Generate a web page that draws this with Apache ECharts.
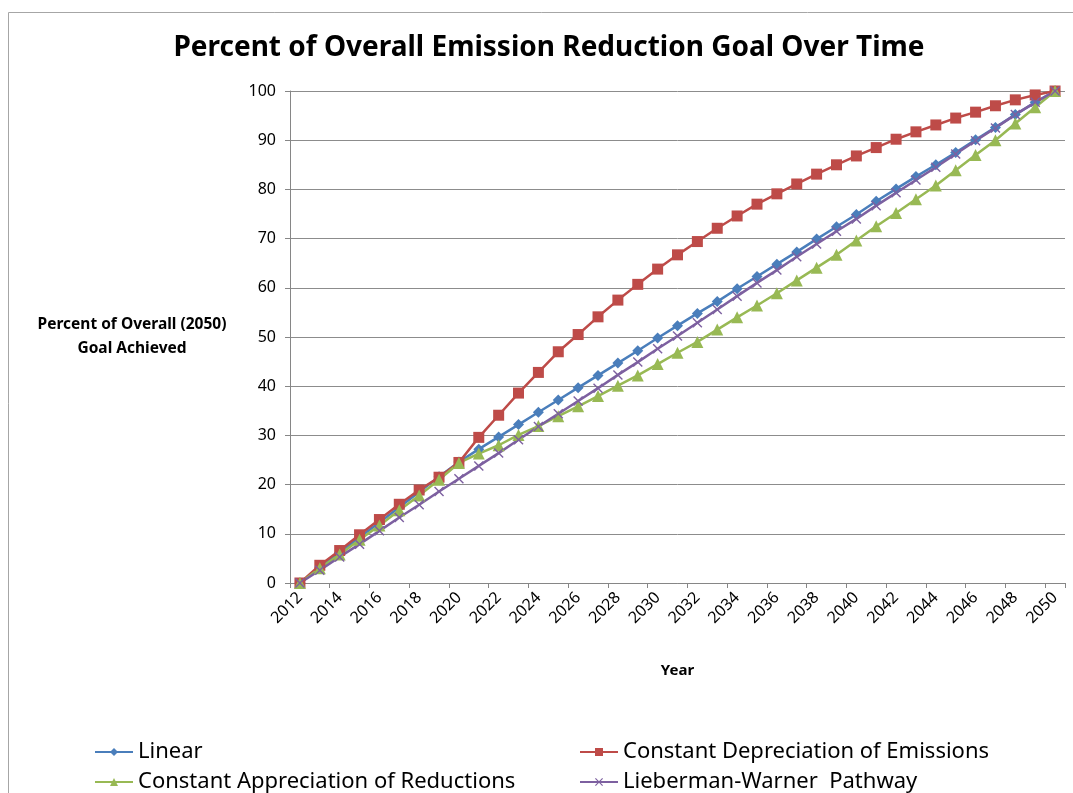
<!DOCTYPE html>
<html>
<head>
<meta charset="utf-8">
<script src="https://cdn.jsdelivr.net/npm/echarts@6/dist/echarts.min.js"></script>
<style>
html,body{margin:0;padding:0;background:#fff;overflow:hidden;}
#chart{width:1073px;height:793px;}
</style>
</head>
<body>
<div id="chart"></div>
<script>
const years = [];
for (let y = 2012; y <= 2050; y++) years.push(String(y));

const linear = [0, 3.1, 6.2, 9.3, 12.3, 15.4, 18.5, 21.6, 24.6, 27.2, 29.7, 32.2, 34.7, 37.2, 39.7, 42.2, 44.7, 47.2, 49.8, 52.3, 54.8, 57.2, 59.8, 62.3, 64.8, 67.3, 69.9, 72.4, 74.9, 77.6, 80.1, 82.6, 85.0, 87.5, 90.1, 92.6, 95.2, 97.7, 100];
const depreciation = [0, 3.6, 6.6, 9.8, 12.9, 16.0, 18.9, 21.5, 24.5, 29.6, 34.1, 38.6, 42.8, 47.0, 50.5, 54.1, 57.5, 60.7, 63.8, 66.7, 69.4, 72.1, 74.6, 77.0, 79.1, 81.1, 83.1, 85.0, 86.8, 88.5, 90.2, 91.7, 93.1, 94.5, 95.7, 97.0, 98.2, 99.2, 100];
const appreciation = [0, 3.0, 5.8, 8.8, 11.7, 14.8, 17.8, 21.0, 24.4, 26.3, 28.0, 30.1, 31.9, 33.9, 35.9, 38.0, 40.1, 42.2, 44.5, 46.8, 49.0, 51.5, 54.0, 56.4, 58.9, 61.5, 64.1, 66.7, 69.6, 72.5, 75.2, 78.0, 80.8, 83.9, 87.0, 90.0, 93.4, 96.7, 100];
const liebermanWarner = [0, 2.6, 5.3, 7.9, 10.6, 13.3, 15.9, 18.6, 21.2, 23.8, 26.4, 29.1, 31.8, 34.4, 37.0, 39.6, 42.3, 44.9, 47.6, 50.2, 52.9, 55.6, 58.3, 61.0, 63.6, 66.3, 68.9, 71.5, 74.0, 76.7, 79.3, 81.9, 84.5, 87.2, 89.9, 92.5, 95.2, 97.7, 100];

const seriesNames = ['Linear', 'Constant Depreciation of Emissions', 'Constant Appreciation of Reductions', 'Lieberman-Warner  Pathway'];
const titleText = 'Percent of Overall Emission Reduction Goal Over Time';
const yAxisTitle = 'Percent of Overall (2050)\nGoal Achieved';
const xAxisTitle = 'Year';

const FONT = 'Noto Sans';
const crossPath = 'path://M0,1L1,0L5,4L9,0L10,1L6,5L10,9L9,10L5,6L1,10L0,9L4,5Z';

function mkSeries(name, data, color, symbol, size) {
  return {
    name: name, type: 'line', data: data,
    symbol: symbol, symbolSize: size, showSymbol: true,
    lineStyle: { color: color, width: 2.5 },
    itemStyle: { color: color },
    emphasis: { disabled: true },
    animation: false
  };
}

const legendCommon = {
  orient: 'vertical', top: 741, height: 60, padding: 0,
  itemWidth: 38, itemHeight: 10, itemGap: 8,
  textStyle: { fontFamily: FONT, fontSize: 22, color: '#000', lineHeight: 22 }
};

const chart = echarts.init(document.getElementById('chart'), null, { renderer: 'canvas' });
chart.setOption({
  backgroundColor: '#fff',
  animation: false,
  textStyle: { fontFamily: FONT },
  title: {
    text: titleText,
    left: 544, top: 29,
    textAlign: 'center',
    textStyle: { fontFamily: FONT, fontWeight: 'bold', fontSize: 28, color: '#000' }
  },
  graphic: [{
    type: 'rect', silent: true, z: -1,
    shape: { x: 8.5, y: 12.5, width: 1200, height: 1000 },
    style: { fill: 'none', stroke: '#a6a6a6', lineWidth: 1 }
  }],
  legend: [
    Object.assign({}, legendCommon, { left: 94, data: [seriesNames[0], seriesNames[2]] }),
    Object.assign({}, legendCommon, { left: 579, data: [seriesNames[1], seriesNames[3]] })
  ],
  grid: { left: 290, right: 8, top: 91, bottom: 210, containLabel: false },
  xAxis: {
    type: 'category', data: years, boundaryGap: true,
    name: xAxisTitle, nameLocation: 'middle', nameGap: 80,
    nameTextStyle: { fontFamily: FONT, fontWeight: 'bold', fontSize: 15, color: '#000' },
    axisLine: { lineStyle: { color: '#868686', width: 1 } },
    axisTick: { show: true, interval: 1, length: 5, lineStyle: { color: '#868686' } },
    axisLabel: { interval: 1, rotate: 45, fontFamily: FONT, fontSize: 16, color: '#000', margin: 12 },
    splitLine: { show: false }
  },
  yAxis: {
    type: 'value', min: 0, max: 100, interval: 10,
    name: yAxisTitle, nameLocation: 'middle', nameRotate: 0, nameGap: 158,
    nameTextStyle: { fontFamily: FONT, fontWeight: 'bold', fontSize: 15.5, color: '#000', align: 'center', lineHeight: 24 },
    axisLine: { show: true, lineStyle: { color: '#868686', width: 1 } },
    axisTick: { show: true, length: 5, lineStyle: { color: '#868686' } },
    axisLabel: { fontFamily: FONT, fontSize: 16, color: '#000', margin: 14 },
    splitLine: { show: true, lineStyle: { color: '#8c8c8c', width: 1 } }
  },
  series: [
    mkSeries(seriesNames[0], linear, '#4A7EBB', 'diamond', 11),
    mkSeries(seriesNames[1], depreciation, '#BE4B48', 'rect', 11),
    mkSeries(seriesNames[2], appreciation, '#98B954', 'triangle', 12),
    mkSeries(seriesNames[3], liebermanWarner, '#7D60A0', crossPath, 10)
  ]
});
</script>
</body>
</html>
